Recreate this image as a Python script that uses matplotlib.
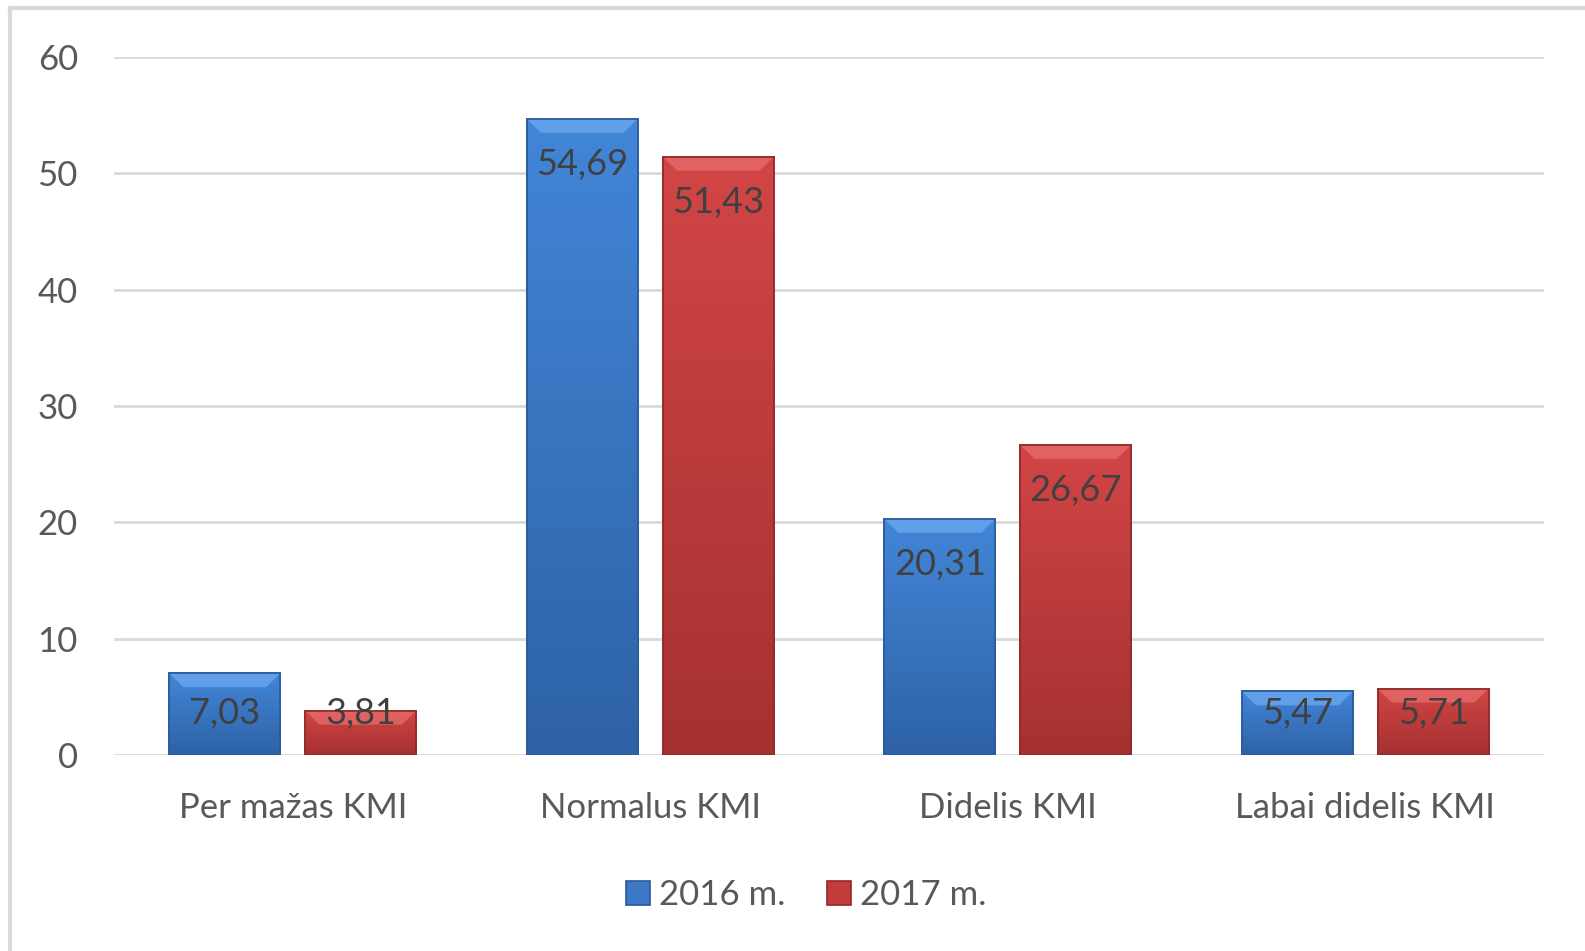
import numpy as np
import matplotlib
matplotlib.use('Agg')
import matplotlib.pyplot as plt
from matplotlib.lines import Line2D
from matplotlib.patches import Polygon
from matplotlib.colors import LinearSegmentedColormap

plt.rcParams['font.family'] = ['Lato', 'DejaVu Sans']

# data
kategorijos = ['Per mažas KMI', 'Normalus KMI', 'Didelis KMI', 'Labai didelis KMI']
metai = ['2016 m.', '2017 m.']
v2016 = [7.03, 54.69, 20.31, 5.47]
v2017 = [3.81, 51.43, 26.67, 5.71]
y_ticks = [0, 10, 20, 30, 40, 50, 60]

spalvos = ['#3b78c6', '#c43b3b']
krastai = ['#2a5a9a', '#8f2a2a']
gradientai = [('#2e62a6', '#4286d8'), ('#a53131', '#d24545')]
sviesus = ['#6aa8ee', '#e56a6a']

fig = plt.figure(figsize=(15.85, 9.51), dpi=100)
ax = fig.add_axes([114 / 1585, 1 - 755 / 951, 1430 / 1585, 698 / 951])

x = np.arange(len(kategorijos))
plotis = 0.311
poslinkis = 0.19
bev_y = 1.2
bev_x = 0.04

for i, (vals, nm) in enumerate(zip([v2016, v2017], metai)):
    xs = x + (poslinkis if i else -poslinkis)
    bars = ax.bar(xs, vals, width=plotis, color=spalvos[i], edgecolor=krastai[i],
                  linewidth=1.2, label=nm, zorder=3)
    cmap = LinearSegmentedColormap.from_list('g%d' % i, gradientai[i])
    for b, xi, v in zip(bars, xs, vals):
        x0, x1 = xi - plotis / 2, xi + plotis / 2
        grad = np.linspace(0, 1, 100).reshape(-1, 1)
        im = ax.imshow(grad, extent=(x0, x1, 0, v), origin='lower', cmap=cmap,
                       aspect='auto', zorder=3.1)
        im.set_clip_path(b)
        # top bevel
        ax.add_patch(Polygon([(x0, v), (x1, v), (x1 - bev_x, v - bev_y), (x0 + bev_x, v - bev_y)],
                             closed=True, facecolor=sviesus[i], edgecolor='none', alpha=0.8, zorder=3.2))
        ax.bar(xi, v, width=plotis, facecolor='none', edgecolor=krastai[i], linewidth=1.2, zorder=3.3)
        ax.text(xi, max(v - 3.9, 3.56), f'{v:.2f}'.replace('.', ','),
                ha='center', va='center', fontsize=26, color='#404040', zorder=4)

ax.set_xlim(-0.5, len(kategorijos) - 0.5)
ax.set_ylim(0, 60)
ax.set_yticks(y_ticks)
ax.set_xticks(x)
ax.set_xticklabels(kategorijos)
ax.tick_params(axis='both', length=0, labelsize=25, labelcolor='#595959')
ax.tick_params(axis='y', pad=26)
ax.tick_params(axis='x', pad=27)
ax.grid(axis='y', color='#d9d9d9', linewidth=2, zorder=0)
for s in ax.spines.values():
    s.set_visible(False)

fig.legend(loc='center', bbox_to_anchor=(806 / 1585, 1 - 895 / 951), ncol=2,
           frameon=False, fontsize=25, handlelength=0.7, handleheight=0.7,
           handletextpad=0.25, columnspacing=1.2, labelcolor='#595959')

# outer frame
fig.add_artist(Line2D([10 / 1585, 10 / 1585], [0, 1 - 8 / 951],
                      transform=fig.transFigure, color='#d9d9d9', linewidth=3))
fig.add_artist(Line2D([10 / 1585, 1], [1 - 8 / 951, 1 - 8 / 951],
                      transform=fig.transFigure, color='#d9d9d9', linewidth=3))

fig.savefig('out.png', dpi=100)
